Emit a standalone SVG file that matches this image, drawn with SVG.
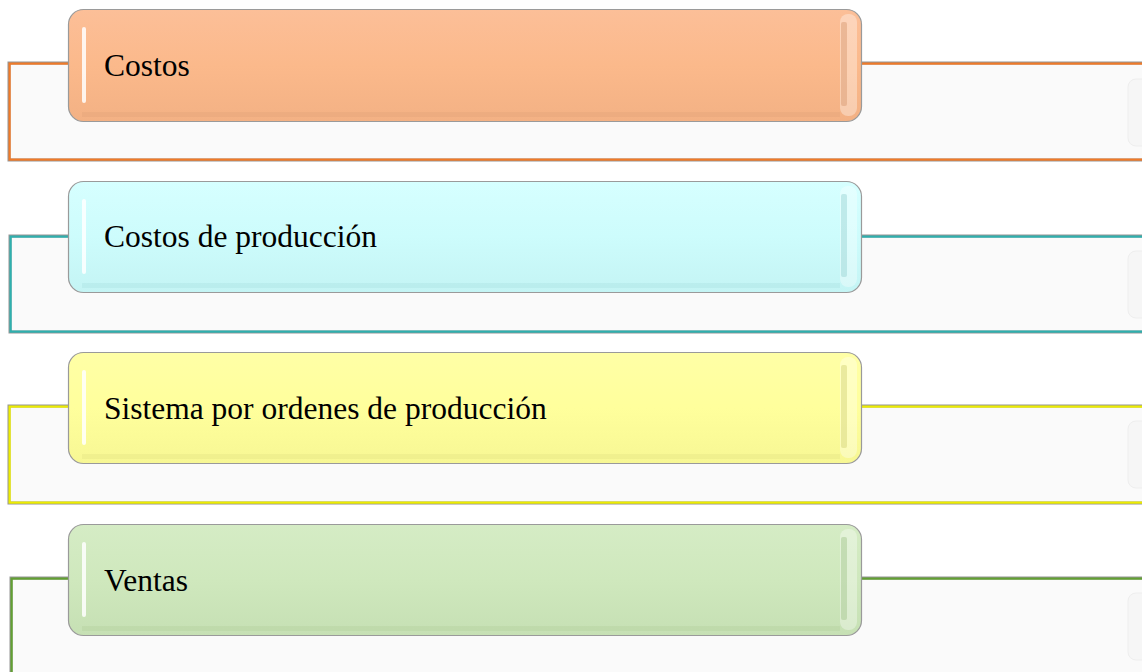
<svg xmlns="http://www.w3.org/2000/svg" width="1142" height="672" viewBox="0 0 1142 672">
<defs>
<style>
.band{fill:#fafafa;stroke:#959595;stroke-width:3}
.bandc{fill:none;stroke-width:2.2}
.ghost{fill:#f6f6f6;stroke:#eeeeee;stroke-width:1}
.box{stroke:#9a9a9a;stroke-width:1.2}
.hl{fill:#ffffff;opacity:.85}
.rim{fill:#ffffff;opacity:.35}
.lbl{font-family:"Liberation Serif","Times New Roman",serif;font-size:31.5px;fill:#000}
</style>
<linearGradient id="gO" x1="0" y1="0" x2="0" y2="1"><stop offset="0" stop-color="#fcbf98"/><stop offset=".5" stop-color="#fbb98b"/><stop offset="1" stop-color="#f3b184"/></linearGradient>
<linearGradient id="gC" x1="0" y1="0" x2="0" y2="1"><stop offset="0" stop-color="#d6ffff"/><stop offset=".5" stop-color="#cdfcfc"/><stop offset="1" stop-color="#c4f4f4"/></linearGradient>
<linearGradient id="gY" x1="0" y1="0" x2="0" y2="1"><stop offset="0" stop-color="#ffffa6"/><stop offset=".5" stop-color="#ffff9c"/><stop offset="1" stop-color="#f7f794"/></linearGradient>
<linearGradient id="gG" x1="0" y1="0" x2="0" y2="1"><stop offset="0" stop-color="#d5ecc5"/><stop offset=".5" stop-color="#cfe8bd"/><stop offset="1" stop-color="#c6e0b4"/></linearGradient>
</defs>
<rect width="1142" height="672" fill="#ffffff"/>

<g id="connectors">
<rect class="band" x="9" y="63" width="1145" height="97"/>
<rect class="bandc" x="9.6" y="63.6" width="1145" height="96" stroke="#f07a28"/>
<rect class="band" x="10" y="236" width="1145" height="96"/>
<rect class="bandc" x="10.6" y="236.6" width="1145" height="95" stroke="#2eb0ae"/>
<rect class="band" x="9" y="406" width="1145" height="97"/>
<rect class="bandc" x="9.6" y="406.6" width="1145" height="96" stroke="#eded00"/>
<rect class="band" x="11" y="578" width="1145" height="110"/>
<rect class="bandc" x="11.6" y="578.6" width="1145" height="110" stroke="#62a032"/>
<rect class="ghost" x="1128" y="79" width="40" height="67" rx="8"/>
<rect class="ghost" x="1128" y="251" width="40" height="67" rx="8"/>
<rect class="ghost" x="1128" y="421" width="40" height="67" rx="8"/>
<rect class="ghost" x="1128" y="593" width="40" height="67" rx="8"/>
</g>

<g id="node-costos">
<rect class="box" x="68.5" y="9.5" width="793" height="112" rx="15" fill="url(#gO)"/>
<rect x="840" y="14" width="17" height="102" rx="8" class="rim"/>
<rect x="841" y="22" width="6" height="84" rx="2" fill="#d99c74" opacity=".5"/>
<rect x="82" y="112" width="758" height="5" fill="#d99c74" opacity=".25"/>
<rect x="82" y="27" width="4" height="76" rx="2" class="hl"/>
<text class="lbl" x="104" y="76">Costos</text>
</g>

<g id="node-costos-produccion">
<rect class="box" x="68.5" y="181.5" width="793" height="111" rx="15" fill="url(#gC)"/>
<rect x="840" y="186" width="17" height="101" rx="8" class="rim"/>
<rect x="841" y="194" width="6" height="83" rx="2" fill="#9cd6d6" opacity=".5"/>
<rect x="82" y="283" width="758" height="5" fill="#9cd6d6" opacity=".25"/>
<rect x="82" y="199" width="4" height="75" rx="2" class="hl"/>
<text class="lbl" x="104" y="247">Costos de producción</text>
</g>

<g id="node-sistema">
<rect class="box" x="68.5" y="352.5" width="793" height="111" rx="15" fill="url(#gY)"/>
<rect x="840" y="357" width="17" height="101" rx="8" class="rim"/>
<rect x="841" y="365" width="6" height="83" rx="2" fill="#d6d67a" opacity=".5"/>
<rect x="82" y="454" width="758" height="5" fill="#d6d67a" opacity=".25"/>
<rect x="82" y="370" width="4" height="75" rx="2" class="hl"/>
<text class="lbl" x="104" y="419">Sistema por ordenes de producción</text>
</g>

<g id="node-ventas">
<rect class="box" x="68.5" y="524.5" width="793" height="111" rx="15" fill="url(#gG)"/>
<rect x="840" y="529" width="17" height="101" rx="8" class="rim"/>
<rect x="841" y="537" width="6" height="83" rx="2" fill="#a6c890" opacity=".5"/>
<rect x="82" y="626" width="758" height="5" fill="#a6c890" opacity=".25"/>
<rect x="82" y="542" width="4" height="75" rx="2" class="hl"/>
<text class="lbl" x="104" y="591">Ventas</text>
</g>
</svg>
